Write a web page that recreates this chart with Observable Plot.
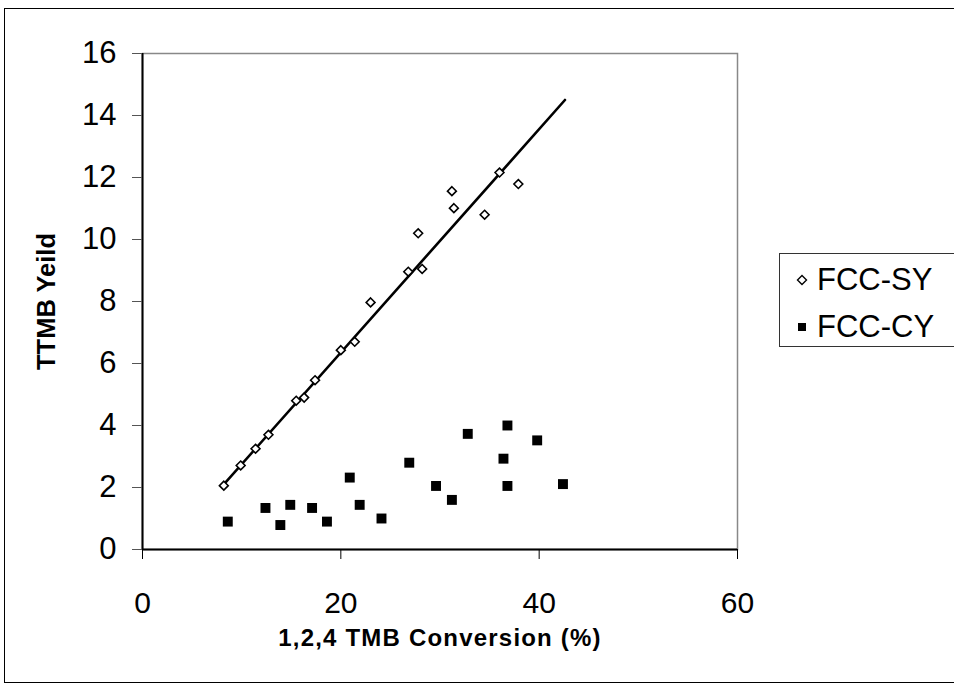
<!DOCTYPE html>
<html>
<head>
<meta charset="utf-8">
<script src="https://cdn.jsdelivr.net/npm/d3@7"></script>
<script src="https://cdn.jsdelivr.net/npm/@observablehq/plot@0.6"></script>
<style>
  html, body { margin: 0; padding: 0; background: #fff; }
  body { width: 954px; height: 689px; position: relative; overflow: hidden;
         font-family: "Liberation Sans", Arial, sans-serif; }
  #frame { position: absolute; left: 4px; top: 8px; width: 980px; height: 675px;
           border: 1px solid #000; box-sizing: border-box; }
  #chart { position: absolute; left: 0; top: 0; }
  #legend { position: absolute; left: 779px; top: 253px; width: 190px; height: 94px;
            border: 1px solid #333; box-sizing: border-box; background: #fff;
            font-size: 31px; color: #000; }
  #legend .row { position: absolute; left: 0; height: 40px; display: flex; align-items: center; }
  #legend svg { margin-left: 16px; margin-right: 9px; }
</style>
</head>
<body>
<div id="frame"></div>
<div id="chart"></div>
<div id="legend"></div>
<script>
// FCC-SY (open diamonds)
const syX = [8.2, 9.9, 11.4, 12.7, 15.5, 16.3, 17.4, 20.0, 21.4, 23.0, 26.8, 27.8, 28.2, 31.2, 31.4, 34.5, 36.0, 37.9];
const syY = [2.06, 2.71, 3.25, 3.70, 4.80, 4.90, 5.46, 6.43, 6.70, 7.97, 8.96, 10.20, 9.05, 11.56, 11.01, 10.80, 12.16, 11.79];
// FCC-CY (filled squares)
const cyX = [8.6, 12.4, 13.9, 14.9, 17.1, 18.6, 20.9, 21.9, 24.1, 26.9, 29.6, 31.2, 32.8, 36.4, 36.8, 36.8, 39.8, 42.4];
const cyY = [0.90, 1.34, 0.79, 1.44, 1.34, 0.90, 2.32, 1.44, 1.00, 2.80, 2.05, 1.60, 3.73, 2.93, 4.00, 2.05, 3.52, 2.11];
// Linear trendline of FCC-SY
const trendX = [8.2, 42.6];
const trendY = [2.1, 14.5];
// Axes
const xTicks = [0, 20, 40, 60];
const yTicks = [0, 2, 4, 6, 8, 10, 12, 14, 16];
const xTitle = "1,2,4 TMB Conversion (%)";
const yTitle = "TTMB Yeild";
const seriesNames = ["FCC-SY", "FCC-CY"];

const sy = syX.map((x, i) => ({x, y: syY[i]}));
const cy = cyX.map((x, i) => ({x, y: cyY[i]}));
const trend = trendX.map((x, i) => ({x, y: trendY[i]}));

const font = '"Liberation Sans", Arial, sans-serif';

const chart = Plot.plot({
  width: 954,
  height: 689,
  marginLeft: 142,
  marginRight: 217,
  marginTop: 53,
  marginBottom: 140,
  style: { fontFamily: font, background: "transparent", overflow: "visible" },
  x: { domain: [0, 60] },
  y: { domain: [0, 16] },
  marks: [
    Plot.frame({ stroke: "#888", strokeWidth: 1.5 }),
    Plot.ruleX([0], { stroke: "#000", strokeWidth: 2 }),
    Plot.ruleY([0], { stroke: "#000", strokeWidth: 2 }),
    Plot.axisX({ ticks: xTicks, tickSize: 10, tickPadding: 32, fontSize: 30, label: null, stroke: "#000", fill: "#000" }),
    Plot.axisY({ ticks: yTicks, tickSize: 10, tickPadding: 16, fontSize: 31, label: null, stroke: "#555", fill: "#000" }),
    Plot.text([xTitle], { frameAnchor: "bottom", dy: 96, fontSize: 24, fontWeight: "bold", fill: "#000" }),
    Plot.text([yTitle], { frameAnchor: "left", dx: -96, rotate: -90, textAnchor: "middle", fontSize: 25.5, fontWeight: "bold", fill: "#000" }),
    Plot.line(trend, { x: "x", y: "y", stroke: "#000", strokeWidth: 2.6 }),
    Plot.dot(cy, { x: "x", y: "y", symbol: "square", r: 5.6, fill: "#000", stroke: "none" }),
    Plot.dot(sy, { x: "x", y: "y", symbol: "diamond2", r: 4.0, fill: "#fff", stroke: "#000", strokeWidth: 1.6 })
  ]
});
// widen the x-axis title slightly, as in the reference
d3.select(chart).selectAll("text")
  .filter(function () { return this.textContent === xTitle; })
  .attr("letter-spacing", "1.2px");
document.getElementById("chart").appendChild(chart);

// Legend
const legend = document.getElementById("legend");
const symbols = [
  '<svg width="12" height="12" viewBox="-6 -6 12 12"><path d="M0,-4.5L4.5,0L0,4.5L-4.5,0Z" fill="#fff" stroke="#000" stroke-width="1.4"/></svg>',
  '<svg width="12" height="12" viewBox="-6 -6 12 12"><rect x="-4" y="-4" width="8" height="8" fill="#000"/></svg>'
];
seriesNames.forEach((name, i) => {
  const row = document.createElement("div");
  row.className = "row";
  row.style.top = (6 + i * 47) + "px";
  row.innerHTML = symbols[i] + '<span>' + name + '</span>';
  legend.appendChild(row);
});
</script>
</body>
</html>
